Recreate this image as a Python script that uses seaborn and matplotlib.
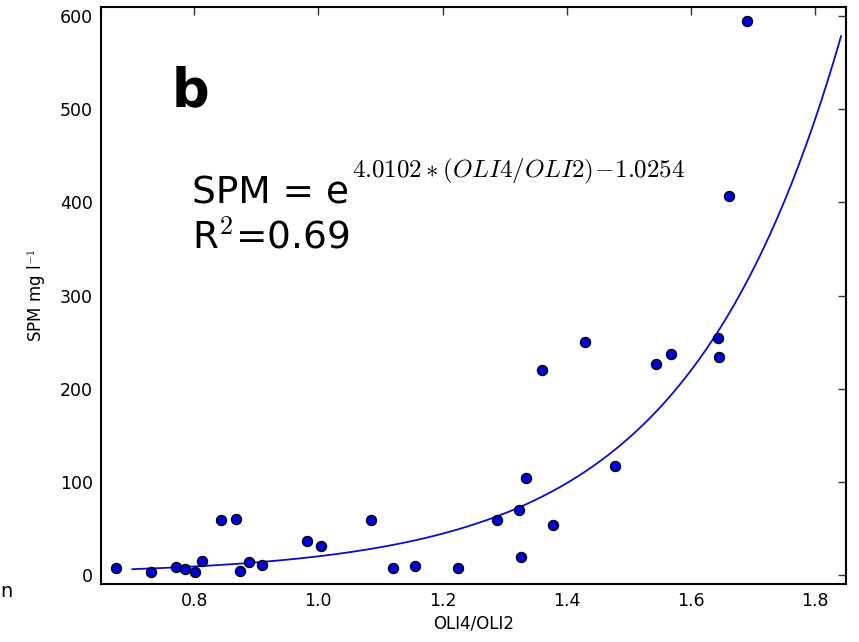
import matplotlib
matplotlib.use("Agg")
import matplotlib.pyplot as plt
import seaborn as sns
import numpy as np
import pandas as pd

# ---- data ----
oli_ratio = [0.674, 0.731, 0.770, 0.786, 0.802, 0.812, 0.844, 0.867, 0.874, 0.889,
             0.909, 0.981, 1.005, 1.085, 1.120, 1.156, 1.225, 1.288, 1.323, 1.326,
             1.335, 1.360, 1.378, 1.429, 1.478, 1.544, 1.568, 1.644, 1.645, 1.661, 1.691]
spm = [7.5, 2.9, 7.8, 6.5, 2.7, 14.8, 58.3, 59.7, 3.5, 13.8,
       10.0, 36.2, 30.9, 58.4, 7.2, 8.9, 7.2, 58.6, 69.1, 19.4,
       104.0, 219.7, 53.0, 249.8, 117.2, 226.1, 237.3, 254.8, 233.7, 406.5, 595.4]

fit_slope = 4.0102
fit_intercept = -1.0254
fit_x_range = [0.70, 1.842]

x_ticks = [0.8, 1.0, 1.2, 1.4, 1.6, 1.8]
y_ticks = [0, 100, 200, 300, 400, 500, 600]

sns.set_style("white")
plt.rcParams['font.family'] = ['DejaVu Sans']
plt.rcParams['mathtext.fontset'] = 'cm'
plt.rcParams['text.color'] = 'black'
plt.rcParams['axes.labelcolor'] = 'black'
plt.rcParams['xtick.color'] = 'black'
plt.rcParams['ytick.color'] = 'black'

fig = plt.figure(figsize=(8.59, 6.42), dpi=100)
ax = fig.add_axes([0.1176, 0.0903, 0.985 - 0.1176, 0.989 - 0.0903])

df = pd.DataFrame({"ratio": oli_ratio, "spm": spm})
xf = np.linspace(fit_x_range[0], fit_x_range[1], 300)
fit_df = pd.DataFrame({"ratio": xf, "spm": np.exp(fit_slope * xf + fit_intercept)})

sns.lineplot(data=fit_df, x="ratio", y="spm", ax=ax, color="#0a0ad0", linewidth=1.3)
sns.scatterplot(data=df, x="ratio", y="spm", ax=ax, color="#0000dd",
                edgecolor="black", linewidth=1.0, s=52, zorder=3)

ax.set_xlim(0.65, 1.85)
ax.set_ylim(-10, 610)
ax.set_xticks(x_ticks)
ax.set_xticklabels([f"{t:.1f}" for t in x_ticks])
ax.set_yticks(y_ticks)
ax.set_yticklabels([str(t) for t in y_ticks])

ax.tick_params(direction='in', top=True, right=True, length=6, width=1,
               labelsize=12.5, color='#333333', labelcolor='black', pad=6)
for s in ax.spines.values():
    s.set_visible(True)
    s.set_color('black')
    s.set_linewidth(1.5)

ax.set_xlabel("OLI4/OLI2", fontsize=12, labelpad=3, color='black')
ax.set_ylabel(r"SPM mg l$^{-1}$", fontsize=12, labelpad=8, color='black')

ax.text(172 / 859, 1 - 106 / 642, "b", transform=fig.transFigure,
        fontsize=38, fontweight='bold', ha='left', va='baseline', color='black')
ax.text(192 / 859, 1 - 203 / 642, "SPM = e",
        transform=fig.transFigure, fontsize=27, ha='left', va='baseline', color='black')
ax.text(352 / 859, 1 - 177 / 642, r"$4.0102*(OLI4/OLI2)\!-\!1.0254$",
        transform=fig.transFigure, fontsize=18, ha='left', va='baseline', color='black')
ax.text(192 / 859, 1 - 248 / 642, r"R$^2$=0.69",
        transform=fig.transFigure, fontsize=27, ha='left', va='baseline', color='black')

# fragment of neighbouring panel text at left edge
fig.text(0.0, 1 - 597 / 642, "n", fontsize=14, ha='left', va='baseline', color='black')

fig.savefig("out.png", dpi=100)
